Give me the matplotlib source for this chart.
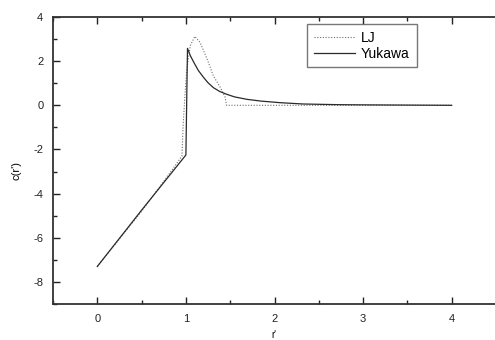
import matplotlib
matplotlib.use("Agg")
import matplotlib.pyplot as plt
from matplotlib.ticker import MultipleLocator

plt.rcParams['font.family'] = ['Liberation Sans', 'DejaVu Sans']
plt.rcParams['axes.unicode_minus'] = False

# LJ (dotted)
lj_r = [0.0, 0.5, 0.84, 0.955, 0.97, 0.99, 1.01, 1.05, 1.10, 1.16, 1.24, 1.31, 1.39, 1.42, 1.44, 1.46, 2.0, 3.0, 4.0]
lj_c = [-7.3, -4.8, -2.95, -2.3, -0.8, 0.5, 1.64, 2.7, 3.12, 2.85, 2.09, 1.33, 0.8, 0.55, 0.4, 0.0, 0.0, 0.0, 0.0]

# Yukawa (solid)
yk_r = [0.0, 0.5, 1.0, 1.012, 1.018, 1.05, 1.09, 1.14, 1.20, 1.25, 1.31, 1.38, 1.46, 1.55, 1.69, 1.85, 2.06, 2.32, 2.7, 3.0, 3.5, 4.0]
yk_c = [-7.3, -4.75, -2.25, 1.0, 2.58, 2.25, 1.94, 1.58, 1.26, 1.02, 0.80, 0.63, 0.50, 0.38, 0.27, 0.19, 0.12, 0.06, 0.03, 0.02, 0.01, 0.0]

fig = plt.figure(figsize=(4.95, 3.4), dpi=100)
ax = fig.add_axes([53/495, 1-304/340, 443/495, 287/340])

ax.plot(lj_r, lj_c, linestyle=(0, (1, 1.5)), color='#6e6e6e', lw=0.8, label='LJ')
ax.plot(yk_r, yk_c, linestyle='-', color='#2a2a2a', lw=0.9, label='Yukawa')

ax.set_xlim(-0.5, 4.5)
ax.set_ylim(-9, 4)
ax.xaxis.set_major_locator(MultipleLocator(1))
ax.xaxis.set_minor_locator(MultipleLocator(0.5))
ax.yaxis.set_major_locator(MultipleLocator(2))
ax.yaxis.set_minor_locator(MultipleLocator(1))
ax.tick_params(which='both', direction='in', top=True, right=False,
               labelsize=8, colors='#222222', width=1.0)
ax.tick_params(which='major', length=5, pad=7)
ax.tick_params(which='minor', length=3)
ax.set_yticks([-8, -6, -4, -2, 0, 2, 4])
ax.set_xticks([0, 1, 2, 3, 4])
for s in ['left', 'bottom', 'top']:
    ax.spines[s].set_linewidth(1.3)
    ax.spines[s].set_color('#333333')
ax.spines['right'].set_visible(False)

fig.text(17/495, 1-171/340, "c(r')", rotation=90, ha='center', va='center', fontsize=8)
fig.text(274/495, 1-335/340, "r'", ha='center', va='center', fontsize=7)

leg = ax.legend(loc='upper left', bbox_to_anchor=(0.573, 0.975), fontsize=10,
                frameon=True, fancybox=False, handlelength=3.0, handletextpad=0.4,
                borderpad=0.5, labelspacing=0.1, borderaxespad=0)
leg.get_frame().set_edgecolor('#555555')
leg.get_frame().set_linewidth(1.0)

fig.savefig('out.png', dpi=100)
